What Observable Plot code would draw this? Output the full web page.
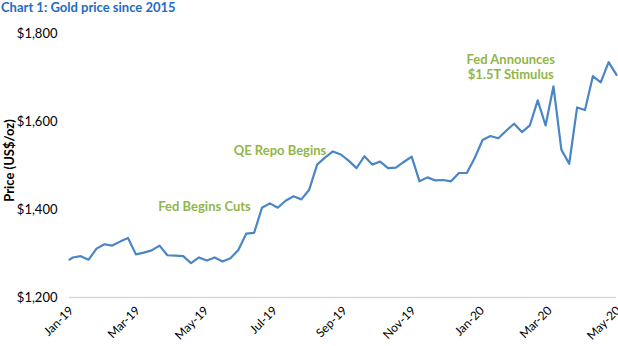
<!DOCTYPE html>
<html>
<head>
<meta charset="utf-8">
<script src="https://cdn.jsdelivr.net/npm/d3@7"></script>
<script src="https://cdn.jsdelivr.net/npm/@observablehq/plot@0.6"></script>
<style>
  html, body { margin: 0; padding: 0; background: #fff; }
  #wrap { position: relative; width: 618px; height: 346px; overflow: hidden; font-family: Lato, "Open Sans", sans-serif; }
  #title { position: absolute; left: 1px; top: -1px; font-size: 13px; font-weight: bold; color: #1F6BC4; white-space: nowrap; }
  #chart { position: absolute; left: 0; top: 22px; }
</style>
</head>
<body>
<div id="wrap">
  <div id="title">Chart 1: Gold price since 2015</div>
  <div id="chart"></div>
</div>
<script>
const dates = [
  "2019-01-01","2019-01-04","2019-01-11","2019-01-18","2019-01-25",
  "2019-02-01","2019-02-08","2019-02-15","2019-02-22",
  "2019-03-01","2019-03-08","2019-03-15","2019-03-22","2019-03-29",
  "2019-04-05","2019-04-12","2019-04-19","2019-04-26",
  "2019-05-03","2019-05-10","2019-05-17","2019-05-24","2019-05-31",
  "2019-06-07","2019-06-14","2019-06-21","2019-06-28",
  "2019-07-05","2019-07-12","2019-07-19","2019-07-26",
  "2019-08-02","2019-08-09","2019-08-16","2019-08-23","2019-08-30",
  "2019-09-06","2019-09-13","2019-09-20","2019-09-27",
  "2019-10-04","2019-10-11","2019-10-18","2019-10-25",
  "2019-11-01","2019-11-08","2019-11-15","2019-11-22","2019-11-29",
  "2019-12-06","2019-12-13","2019-12-20","2019-12-27",
  "2020-01-03","2020-01-10","2020-01-17","2020-01-24","2020-01-31",
  "2020-02-07","2020-02-14","2020-02-21","2020-02-28",
  "2020-03-06","2020-03-13","2020-03-20","2020-03-27",
  "2020-04-03","2020-04-10","2020-04-17","2020-04-24",
  "2020-05-01"
];
const prices = [
  1286,1291,1294,1286,1311,
  1321,1318,1327,1335,
  1298,1302,1307,1318,1296,
  1295,1294,1278,1291,
  1284,1291,1282,1289,1308,
  1345,1347,1404,1414,
  1404,1420,1430,1423,
  1445,1502,1518,1532,1525,
  1511,1494,1521,1502,
  1509,1494,1495,1508,
  1520,1464,1473,1466,1467,
  1464,1483,1483,1517,
  1558,1567,1562,1579,1595,
  1576,1591,1648,1591,
  1680,1536,1504,1632,
  1626,1703,1689,1735,
  1706
];
const xTickDates = ["2019-01-01","2019-03-01","2019-05-01","2019-07-01","2019-09-01","2019-11-01","2020-01-01","2020-03-01","2020-05-01"];
const yTicks = [1200, 1400, 1600, 1800];
const annotationLabels = ["Fed Begins Cuts", "QE Repo Begins", "Fed Announces\n$1.5T Stimulus"];
const annotationDates = ["2019-05-01", "2019-07-07", "2020-01-28"];
const annotationValues = [1409, 1536, 1725];

const parse = s => new Date(s + "T00:00:00Z");
const data = dates.map((d, i) => ({date: parse(d), price: prices[i]}));
const notes = annotationLabels.map((t, i) => ({text: t, date: parse(annotationDates[i]), value: annotationValues[i]}));

const chart = Plot.plot({
  width: 618,
  height: 324,
  marginTop: 11,
  marginBottom: 49,
  marginLeft: 69,
  marginRight: 2,
  style: {fontFamily: "Lato, 'Open Sans', sans-serif", color: "#000", background: "transparent"},
  x: {type: "utc", domain: [parse(dates[0]), parse(dates[dates.length - 1])]},
  y: {domain: [1200, 1800]},
  marks: [
    Plot.ruleY([1200], {stroke: "#d9d9d9", strokeWidth: 1.5}),
    Plot.axisY({ticks: yTicks, tickSize: 0, tickPadding: 12, tickFormat: d => "$" + d3.format(",")(d), fontSize: 13, label: null}),
    Plot.axisX({ticks: xTickDates.map(parse), tickSize: 0, tickPadding: 11, tickRotate: -45, dx: 2, tickFormat: d3.utcFormat("%b-%y"), fontSize: 12, label: null}),
    Plot.text(["Price (US$/oz)"], {frameAnchor: "left", textAnchor: "middle", rotate: -90, dx: -60, dy: -5, fontSize: 13, fontWeight: "bold", fill: "#000"}),
    Plot.line(data, {x: "date", y: "price", stroke: "#4A86C6", strokeWidth: 2.2, strokeLinejoin: "round"}),
    Plot.text(notes, {x: "date", y: "value", text: "text", fill: "#92B64A", fontWeight: "bold", fontSize: 13, textAnchor: "middle", lineAnchor: "middle", lineHeight: 1.2})
  ]
});
document.getElementById("chart").appendChild(chart);
</script>
</body>
</html>
